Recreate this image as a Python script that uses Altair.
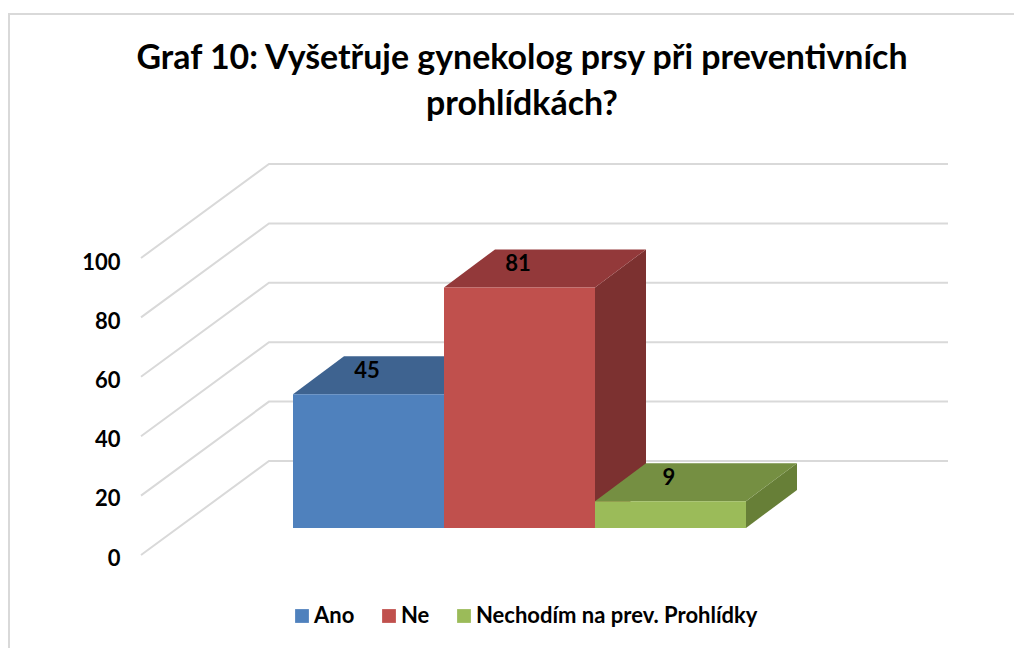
import altair as alt
import pandas as pd

# Data
categories = ["Ano", "Ne", "Nechodím na prev. Prohlídky"]
values = [45, 81, 9]
front_colors = ["#4f81bd", "#c0504d", "#9bbb59"]
top_colors = ["#3e6390", "#93393a", "#758f42"]
side_colors = ["#3e6390", "#7c3130", "#677f37"]
ticks = [0, 20, 40, 60, 80, 100]
title_lines = ["Graf 10: Vyšetřuje gynekolog prsy při preventivních", "prohlídkách?"]

FONT = "Lato"
W, H = 1006, 635
OX, OY = 8, 13
# projection: one slot = 151 px, one value unit = 2.97 px
SX, SV = 151.0, 2.97
X0, Y0 = 293.0, 528.0
x_domain = [(OX - X0) / SX, (OX + W - X0) / SX]
y_domain = [(Y0 - OY - H) / SV, (Y0 - OY) / SV]
# axis labels sit on the front plane
AX_S = 2.96
ax_domain = [(558 - OY - H) / AX_S, (558 - OY) / AX_S]

DEPTH_X, DEPTH_V = 51 / SX, 38 / SV
WALL_FRONT_X, WALL_FRONT_V = (141 - X0) / SX, (Y0 - 555) / SV
WALL_BACK_X, WALL_BACK_V = (269 - X0) / SX, (Y0 - 461) / SV
WALL_END_X = (948 - X0) / SX

xs = alt.Scale(domain=x_domain, nice=False, zero=False)
ys = alt.Scale(domain=y_domain, nice=False, zero=False)
X = lambda f="x": alt.X(f"{f}:Q", scale=xs, axis=None)
Y = lambda f="y": alt.Y(f"{f}:Q", scale=ys, axis=None, stack=None)

layers = []

# frame
layers.append(alt.Chart(pd.DataFrame({"a": [0]})).mark_rule(color="#d9d9d9", strokeWidth=2).encode(
    x=alt.value(0), x2=alt.value(W), y=alt.value(1)))
layers.append(alt.Chart(pd.DataFrame({"a": [0]})).mark_rule(color="#d9d9d9", strokeWidth=2).encode(
    x=alt.value(1), y=alt.value(0), y2=alt.value(H)))

# grid (floor-to-wall polylines)
grid_rows = []
for t in ticks:
    grid_rows += [
        {"t": t, "o": 0, "x": WALL_FRONT_X, "y": t + WALL_FRONT_V},
        {"t": t, "o": 1, "x": WALL_BACK_X, "y": t + WALL_BACK_V},
        {"t": t, "o": 2, "x": WALL_END_X, "y": t + WALL_BACK_V},
    ]
layers.append(alt.Chart(pd.DataFrame(grid_rows)).mark_line(color="#d9d9d9", strokeWidth=2).encode(
    x=X(), y=Y(), detail="t:N", order="o:Q"))

# y axis labels
layers.append(alt.Chart(pd.DataFrame({"t": ticks})).mark_point(opacity=0).encode(
    x=alt.value(0),
    y=alt.Y("t:Q", scale=alt.Scale(domain=ax_domain, nice=False, zero=False),
            axis=alt.Axis(values=ticks, title=None, domain=False, ticks=False, grid=False,
                          labelFont=FONT, labelFontSize=22, labelFontWeight="bold",
                          labelColor="#000000", labelPadding=0, offset=-112, labelOverlap=False))))

# bars
color_scale = alt.Scale(domain=categories, range=front_colors)
legend = alt.Legend(orient="none", legendX=283, legendY=592, direction="horizontal", title=None,
                    symbolType="square", symbolSize=190, symbolStrokeWidth=0, labelFont=FONT,
                    labelFontSize=22, labelFontWeight="bold", labelColor="#000000",
                    labelOffset=1, columnPadding=23, padding=0, labelLimit=400)
for i, (cat, v) in enumerate(zip(categories, values)):
    top = pd.DataFrame([
        {"y": v + DEPTH_V, "x": i + DEPTH_X, "x2": i + 1 + DEPTH_X},
        {"y": v, "x": i, "x2": i + 1},
    ])
    side = pd.DataFrame([
        {"x": i + 1, "y": 0, "y2": v},
        {"x": i + 1 + DEPTH_X, "y": DEPTH_V, "y2": v + DEPTH_V},
    ])
    front = pd.DataFrame([{"x": i, "x2": i + 1, "y": 0, "y2": v, "c": cat}])
    layers.append(alt.Chart(side).mark_area(color=side_colors[i]).encode(x=X(), y=Y(), y2="y2:Q"))
    layers.append(alt.Chart(top).mark_area(color=top_colors[i], orient="horizontal").encode(
        y=Y(), x=alt.X("x:Q", scale=xs, axis=None, stack=None), x2="x2:Q"))
    layers.append(alt.Chart(front).mark_rect().encode(
        x=X(), x2="x2:Q", y=Y(), y2="y2:Q",
        color=alt.Color("c:N", scale=color_scale, legend=legend)))

# value labels
lab = pd.DataFrame({"x": [i + 0.49 for i in range(3)],
                    "y": [v + 23.5 / SV for v in values],
                    "v": values})
layers.append(alt.Chart(lab).mark_text(font=FONT, fontSize=22, fontWeight="bold", color="#000000").encode(
    x=X(), y=Y(), text="v:Q"))

chart = alt.layer(*layers).resolve_scale(y="independent").properties(
    width=W, height=H,
    padding={"left": 0, "top": 5, "right": 0, "bottom": 0},
    autosize=alt.AutoSizeParams(type="none"),
    background="#ffffff",
    title=alt.TitleParams(text=title_lines, font=FONT, fontSize=33.9, fontWeight="bold", color="#000000",
                          anchor="middle", frame="group", lineHeight=46, dx=11, dy=148, baseline="bottom"),
).configure_view(stroke=None)

chart.save("out.html", embed_options={"renderer": "svg", "actions": False})
